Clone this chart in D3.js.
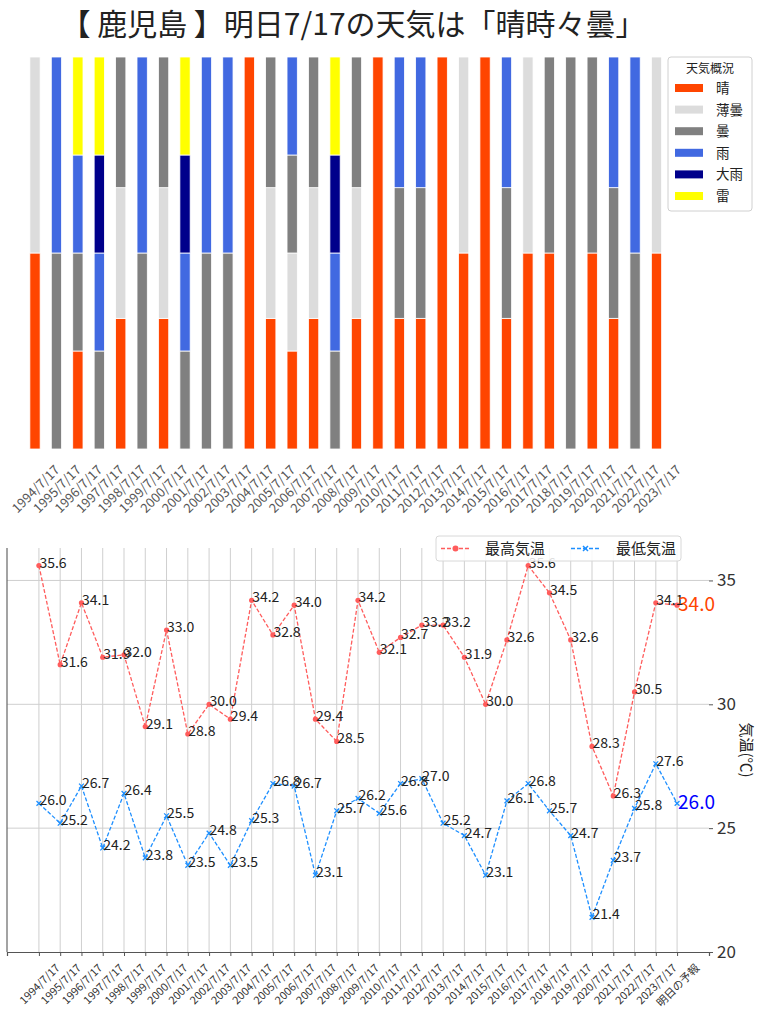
<!DOCTYPE html>
<html>
<head>
<meta charset="utf-8">
<script src="https://cdn.jsdelivr.net/npm/d3@7"></script>
<style>
  body { margin: 0; background: #fff; }
  text { font-family: "Noto Sans CJK JP", "Noto Sans", sans-serif; }
</style>
</head>
<body>
<script>
// ---------- DATA ----------
const titleText = "【 鹿児島 】明日7/17の天気は「晴時々曇」";
const years = ["1994/7/17","1995/7/17","1996/7/17","1997/7/17","1998/7/17","1999/7/17",
  "2000/7/17","2001/7/17","2002/7/17","2003/7/17","2004/7/17","2005/7/17","2006/7/17",
  "2007/7/17","2008/7/17","2009/7/17","2010/7/17","2011/7/17","2012/7/17","2013/7/17",
  "2014/7/17","2015/7/17","2016/7/17","2017/7/17","2018/7/17","2019/7/17","2020/7/17",
  "2021/7/17","2022/7/17","2023/7/17"];
const weatherTypes = ["晴","薄曇","曇","雨","大雨","雷"];
const weatherColors = ["#FF4500","#DCDCDC","#808080","#4169E1","#00008B","#FFFF00"];
// weather of each day, bottom to top (equal shares)
const dailyWeather = [
  ["晴","薄曇"], ["曇","雨"], ["晴","曇","雨","雷"], ["曇","雨","大雨","雷"],
  ["晴","薄曇","曇"], ["曇","雨"], ["晴","薄曇","曇"], ["曇","雨","大雨","雷"],
  ["曇","雨"], ["曇","雨"], ["晴"], ["晴","薄曇","曇"], ["晴","薄曇","曇","雨"],
  ["晴","薄曇","曇"], ["曇","雨","大雨","雷"], ["晴","薄曇","曇"], ["晴"],
  ["晴","曇","雨"], ["晴","曇","雨"], ["晴"], ["晴","薄曇"], ["晴"], ["晴","曇","雨"],
  ["晴","薄曇"], ["晴","曇"], ["曇"], ["晴","曇"], ["晴","曇","雨"], ["曇","雨"], ["晴","薄曇"]
];
const tempLabels = years.concat(["明日の予報"]);
const maxTemps = [35.6,31.6,34.1,31.9,32.0,29.1,33.0,28.8,30.0,29.4,34.2,32.8,34.0,29.4,28.5,
  34.2,32.1,32.7,33.2,33.2,31.9,30.0,32.6,35.6,34.5,32.6,28.3,26.3,30.5,34.1,34.0];
const minTemps = [26.0,25.2,26.7,24.2,26.4,23.8,25.5,23.5,24.8,23.5,25.3,26.8,26.7,23.1,25.7,
  26.2,25.6,26.8,27.0,25.2,24.7,23.1,26.1,26.8,25.7,24.7,21.4,23.7,25.8,27.6,26.0];
const tempTicks = [20,25,30,35];
const seriesNames = ["最高気温","最低気温"];
const yLabel = "気温(℃)";
const legendTitle = "天気概況";

// ---------- SVG ----------
const W = 760, H = 1024;
const svg = d3.select("body").append("svg").attr("width", W).attr("height", H);
const colorOf = d3.scaleOrdinal().domain(weatherTypes).range(weatherColors);

// title
svg.append("text").attr("x", 353).attr("y", 35).attr("text-anchor", "middle")
  .attr("font-size", 30).attr("fill", "#222").text(titleText);

// ---------- TOP: stacked weather bars ----------
const xTop = d3.scaleLinear().domain([0, years.length - 1]).range([35, 656.5]);
const stepTop = xTop(1) - xTop(0);
const bw = stepTop * 0.48;
const yTop = d3.scaleLinear().domain([0, 1]).range([449, 57]);

const segs = [];
dailyWeather.forEach((arr, i) => {
  const n = arr.length;
  arr.forEach((w, j) => segs.push({i, w, y0: j / n, y1: (j + 1) / n}));
});
svg.append("g").selectAll("rect").data(segs).join("rect")
  .attr("x", d => xTop(d.i) - bw / 2)
  .attr("y", d => yTop(d.y1))
  .attr("width", bw)
  .attr("height", d => yTop(d.y0) - yTop(d.y1))
  .attr("fill", d => colorOf(d.w))
  .attr("stroke", "#fff").attr("stroke-width", 0.8);

function rotatedLabels(g, labels, xs, top, fs, color) {
  labels.forEach((lab, i) => {
    const t = g.append("text").attr("font-size", fs).attr("fill", color)
      .attr("text-anchor", "middle").attr("dominant-baseline", "central").text(lab);
    const L = t.node().getComputedTextLength();
    const box = (L + fs * 1.05) * Math.SQRT1_2;
    t.attr("transform", `translate(${xs(i)},${top + box / 2}) rotate(-45)`);
  });
}
rotatedLabels(svg.append("g"), years, i => xTop(i), 462, 13, "#555");

// legend (top)
const lg = svg.append("g");
lg.append("rect").attr("x", 668).attr("y", 57).attr("width", 84).attr("height", 154)
  .attr("rx", 3).attr("fill", "#fff").attr("stroke", "#d0d0d0");
lg.append("text").attr("x", 710).attr("y", 73).attr("text-anchor", "middle")
  .attr("font-size", 12).attr("fill", "#222").text(legendTitle);
weatherTypes.forEach((w, k) => {
  const cy = 88 + k * 21.6;
  lg.append("rect").attr("x", 675).attr("y", cy - 4).attr("width", 28).attr("height", 8)
    .attr("fill", colorOf(w));
  lg.append("text").attr("x", 716).attr("y", cy + 5).attr("font-size", 13.5)
    .attr("fill", "#222").text(w);
});

// ---------- BOTTOM: temperatures ----------
const L0 = 7, R0 = 709, T0 = 548, B0 = 952;
const x = d3.scaleLinear().domain([-1.5, tempLabels.length - 1 + 1.5]).range([L0, R0]);
const y = d3.scaleLinear().domain([20, 36.31]).range([B0, T0]);
const g = svg.append("g");

// grid
g.selectAll("line.vg").data(tempLabels).join("line").attr("class", "vg")
  .attr("x1", (d, i) => x(i)).attr("x2", (d, i) => x(i))
  .attr("y1", T0).attr("y2", B0).attr("stroke", "#cfcfcf").attr("stroke-width", 1);
g.selectAll("line.hg").data(tempTicks.filter(t => t > 20)).join("line").attr("class", "hg")
  .attr("x1", L0).attr("x2", R0).attr("y1", d => y(d)).attr("y2", d => y(d))
  .attr("stroke", "#cfcfcf").attr("stroke-width", 1);

// spines
g.append("line").attr("x1", L0).attr("x2", L0).attr("y1", T0).attr("y2", B0)
  .attr("stroke", "#666").attr("stroke-width", 1.2);

// bottom axis
const xAxis = d3.axisBottom(x).tickValues(d3.range(tempLabels.length)).tickSize(4).tickFormat("");
const gx = g.append("g").attr("transform", `translate(0,${B0})`).call(xAxis);
gx.select(".domain").attr("stroke", "#555").attr("stroke-width", 1.2);
gx.selectAll(".tick line").attr("stroke", "#555");
rotatedLabels(g.append("g"), tempLabels, i => x(i), B0 + 9, 11, "#333");

// right axis
const yAxis = d3.axisRight(y).tickValues(tempTicks).tickSize(4).tickPadding(4);
const gy = g.append("g").attr("transform", `translate(${R0},0)`).call(yAxis);
gy.select(".domain").remove();
gy.selectAll(".tick line").attr("stroke", "#555");
gy.selectAll(".tick text").attr("font-size", 17).attr("fill", "#333")
  .attr("font-family", "'Noto Sans CJK JP', sans-serif");

g.append("text").attr("transform", `translate(741,${(T0 + B0) / 2}) rotate(90)`)
  .attr("text-anchor", "middle").attr("font-size", 15).attr("fill", "#222").text(yLabel);

// lines
const maxColor = "#ff5c5c", minColor = "#1e8fff";
const line = d3.line().x((d, i) => x(i)).y(d => y(d));
g.append("path").datum(maxTemps).attr("d", line).attr("fill", "none")
  .attr("stroke", maxColor).attr("stroke-width", 1.3).attr("stroke-dasharray", "4,2");
g.append("path").datum(minTemps).attr("d", line).attr("fill", "none")
  .attr("stroke", minColor).attr("stroke-width", 1.3).attr("stroke-dasharray", "4,2");

g.selectAll("circle.mx").data(maxTemps).join("circle").attr("class", "mx")
  .attr("cx", (d, i) => x(i)).attr("cy", d => y(d)).attr("r", 2.6).attr("fill", maxColor);
const xs = 2.4;
g.selectAll("path.mn").data(minTemps).join("path").attr("class", "mn")
  .attr("d", (d, i) => {
    const cx = x(i), cy = y(d);
    return `M${cx - xs},${cy - xs}L${cx + xs},${cy + xs}M${cx - xs},${cy + xs}L${cx + xs},${cy - xs}`;
  })
  .attr("stroke", minColor).attr("stroke-width", 1.3);

// value labels
const last = tempLabels.length - 1;
[maxTemps, minTemps].forEach((arr, s) => {
  g.selectAll(null).data(arr).join("text")
    .attr("x", (d, i) => x(i) + (i === last ? 1 : 0.5))
    .attr("y", (d, i) => y(d) + (i === last ? 6 : 2))
    .attr("font-size", (d, i) => i === last ? 19 : 14)
    .attr("fill", (d, i) => i === last ? (s === 0 ? "#FF4500" : "#0000FF") : "#222")
    .text(d => d.toFixed(1));
});

// legend (bottom)
const lb = svg.append("g");
lb.append("rect").attr("x", 436).attr("y", 536).attr("width", 245).attr("height", 25)
  .attr("rx", 3).attr("fill", "#fff").attr("fill-opacity", 0.85).attr("stroke", "#d8d8d8");
const ly = 548.5;
lb.append("line").attr("x1", 441).attr("x2", 470).attr("y1", ly).attr("y2", ly)
  .attr("stroke", maxColor).attr("stroke-width", 1.3).attr("stroke-dasharray", "4,2");
lb.append("circle").attr("cx", 455.5).attr("cy", ly).attr("r", 3).attr("fill", maxColor);
lb.append("text").attr("x", 485).attr("y", ly + 5.5).attr("font-size", 15).attr("fill", "#222").text(seriesNames[0]);
lb.append("line").attr("x1", 571).attr("x2", 600).attr("y1", ly).attr("y2", ly)
  .attr("stroke", minColor).attr("stroke-width", 1.3).attr("stroke-dasharray", "4,2");
lb.append("path").attr("d", `M${585.5 - 2.5},${ly - 2.5}L${585.5 + 2.5},${ly + 2.5}M${585.5 - 2.5},${ly + 2.5}L${585.5 + 2.5},${ly - 2.5}`)
  .attr("stroke", minColor).attr("stroke-width", 1.5);
lb.append("text").attr("x", 616).attr("y", ly + 5.5).attr("font-size", 15).attr("fill", "#222").text(seriesNames[1]);
</script>
</body>
</html>
